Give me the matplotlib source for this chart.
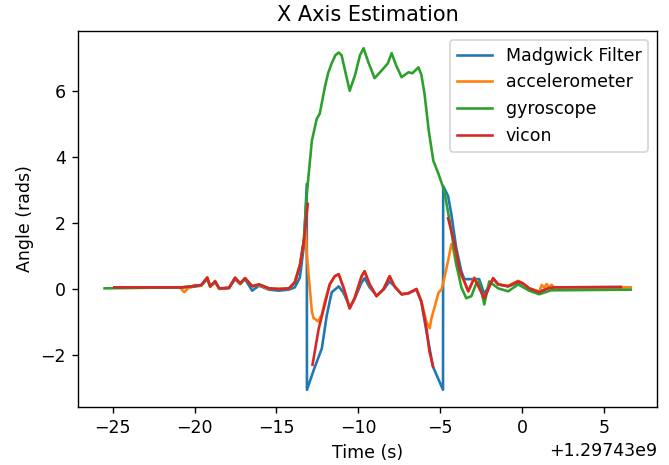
import numpy as np
import matplotlib
matplotlib.use('Agg')
import matplotlib.pyplot as plt

nan = np.nan
base = 1297430000.0

# Madgwick filter
t_mad = [-24.9, -20.8, -20.2, -19.6, -19.23, -19.05, -18.75, -18.5, -17.9, -17.53, -17.22, -16.92,
         -16.49, -16.07, -15.46, -14.85, -14.24, -13.88, -13.57, -13.33, -13.15, -13.14, -12.72,
         -12.23, -11.93, -11.63, -11.2, -10.89, -10.53, -10.23, -9.8, -9.62, -9.31, -8.89, -8.46,
         -8.09, -7.79, -7.36, -6.94, -6.45, -6.15, -5.84, -5.44, -5.05, -4.83, -4.82, -4.52, -4.32,
         -4.02, -3.71, -3.53, -3.10, -2.62, -2.31, -1.77, -1.46, -0.85, -0.24, 0.06, 0.43, 1.04,
         1.58, 1.95, 6.03]
y_mad = [0.05, 0.05, 0.06, 0.1, 0.3, 0.08, 0.2, 0.02, 0.03, 0.3, 0.15, 0.3,
         -0.05, 0.1, -0.02, -0.05, -0.02, 0.05, 0.35, 1.3, 3.19, -3.06, -2.45,
         -1.8, -0.8, -0.1, 0.08, -0.13, -0.55, -0.3, 0.2, 0.33, 0.05, -0.2, -0.02,
         0.23, 0.08, -0.16, -0.13, -0.02, -0.4, -1.3, -2.36, -2.81, -3.06, 3.13, 2.82, 2.27,
         1.24, 0.54, 0.3, 0.3, 0.3, -0.15, 0.3, 0.14, 0.08, 0.2, 0.15, 0.02, -0.08,
         0.02, 0.05, 0.06]

# accelerometer
t_acc = [-24.9, -20.9, -20.63, -20.4, -20.0, -19.6, -19.23, -19.05, -18.75, -18.5, -17.9, -17.53,
         -17.22, -16.92, -16.49, -16.07, -15.46, -14.85, -14.24, -13.88, -13.57, -13.33, -13.22,
         -13.15, -12.84, -12.74, -12.45, -12.23, -12.05, -11.75, -11.44, -11.2, -10.89, -10.53,
         -10.23, -9.8, -9.62, -9.31, -8.89, -8.46, -8.09, -7.79, -7.36, -6.94, -6.45, -6.15, -5.84,
         -5.64, -5.54, -5.11, -4.91, -4.70, -4.50, -4.32, -4.20, -4.02, -3.83, -3.53, -3.29, -2.92,
         -2.31, -1.77, -1.46, -0.85, -0.24, 0.06, 0.43, 1.04, 1.2, 1.35, 1.5, 1.65, 1.8, 1.95, 6.63]
y_acc = [0.05, 0.05, -0.1, 0.02, 0.12, 0.1, 0.36, 0.06, 0.25, 0.0, 0.05, 0.34,
         0.15, 0.33, 0.1, 0.12, 0.0, 0.02, 0.0, 0.22, 0.75, 1.45, 1.9,
         1.05, -0.68, -0.88, -0.98, -0.77, -0.38, 0.14, 0.39, 0.45, 0.02, -0.59,
         -0.28, 0.39, 0.54, 0.14, -0.22, 0.0, 0.39, 0.08, -0.16, -0.13, 0.0, -0.38, -1.0,
         -1.19, -0.9, -0.12, 0.0, 0.45, 0.9, 1.36, 1.2, 0.75, 0.5, 0.23, -0.07, 0.35,
         -0.28, 0.33, 0.14, 0.1, 0.25, 0.17, 0.02, -0.08, 0.12, 0.04, 0.15, 0.05, 0.13, 0.05, 0.05]

# gyroscope
t_gyr = [-25.5, -20.8, -20.2, -19.6, -19.23, -19.05, -18.75, -18.5, -17.9, -17.53, -17.22, -16.92,
         -16.49, -16.07, -15.46, -14.85, -14.24, -13.88, -13.57, -13.33, -13.15, -12.84, -12.54,
         -12.36, -12.05, -11.85, -11.63, -11.4, -11.2, -11.02, -10.8, -10.53, -10.2, -9.9, -9.68,
         -9.4, -9.01, -8.46, -8.2, -7.97, -7.7, -7.36, -6.94, -6.70, -6.33, -6.15, -5.96, -5.7,
         -5.42, -5.11, -4.75, -4.32, -4.02, -3.71, -3.41, -3.10, -2.80, -2.62, -2.31, -2.01, -1.46,
         -0.85, -0.24, 0.43, 1.04, 1.77, 6.63]
y_gyr = [0.02, 0.05, 0.08, 0.12, 0.34, 0.08, 0.23, 0.02, 0.03, 0.34, 0.17, 0.33,
         0.08, 0.14, 0.02, -0.01, 0.02, 0.2, 0.7, 1.5, 2.88, 4.5, 5.17,
         5.32, 6.12, 6.55, 6.85, 7.1, 7.18, 7.09, 6.6, 6.02, 6.5, 7.1, 7.31,
         6.9, 6.4, 6.7, 6.85, 7.16, 6.8, 6.43, 6.58, 6.55, 6.73, 6.5, 5.93, 4.8,
         3.89, 3.5, 2.98, 1.76, 0.75, 0.05, -0.28, -0.22, 0.17, 0.23, -0.47, 0.23, 0.02,
         -0.07, 0.14, -0.05, -0.16, -0.04, -0.02]

# vicon
t_vic = [-24.9, -20.8, -20.2, -19.6, -19.23, -19.05, -18.75, -18.5, -17.9, -17.53, -17.22, -16.92,
         -16.49, -16.07, -15.46, -14.85, -14.24, -13.88, -13.57, -13.33, -13.09, nan, -12.8, -12.42,
         -12.05, -11.75, -11.44, -11.2, -10.89, -10.53, -10.23, -9.8, -9.62, -9.31, -8.89, -8.46,
         -8.09, -7.79, -7.36, -6.94, -6.45, -6.15, -5.84, -5.66, -5.44, nan, -4.52, -4.32, -4.02,
         -3.83, -3.53, -3.29, -2.92, -2.31, -1.77, -1.46, -0.85, -0.24, 0.06, 0.43, 1.04, 1.58,
         1.95, 6.03]
y_vic = [0.05, 0.05, 0.08, 0.12, 0.34, 0.08, 0.23, 0.02, 0.03, 0.34, 0.17, 0.33,
         0.08, 0.14, 0.02, -0.01, 0.02, 0.2, 0.7, 1.45, 2.58, nan, -2.3, -1.2,
         -0.47, 0.14, 0.39, 0.45, 0.02, -0.59, -0.28, 0.39, 0.54, 0.14, -0.22, 0.0,
         0.39, 0.08, -0.16, -0.13, 0.0, -0.38, -1.2, -1.9, -2.36, nan, 2.15, 1.75, 1.15,
         0.6, 0.23, -0.07, 0.33, -0.28, 0.33, 0.14, 0.08, 0.23, 0.17, 0.02, -0.1, 0.02,
         0.05, 0.06]

fig = plt.figure(figsize=(669 / 125, 465 / 125), dpi=125)
ax = fig.add_axes([0.117, 0.125, 0.865, 0.808])

ax.plot(base + np.array(t_mad), y_mad, label='Madgwick Filter')
ax.plot(base + np.array(t_acc), y_acc, label='accelerometer')
ax.plot(base + np.array(t_gyr), y_gyr, label='gyroscope')
ax.plot(base + np.array(t_vic), y_vic, label='vicon')

ax.set_title('X Axis Estimation')
ax.set_xlabel('Time (s)')
ax.set_ylabel('Angle (rads)')
ax.legend(loc='upper right')

fig.savefig('out.png', dpi=125)
